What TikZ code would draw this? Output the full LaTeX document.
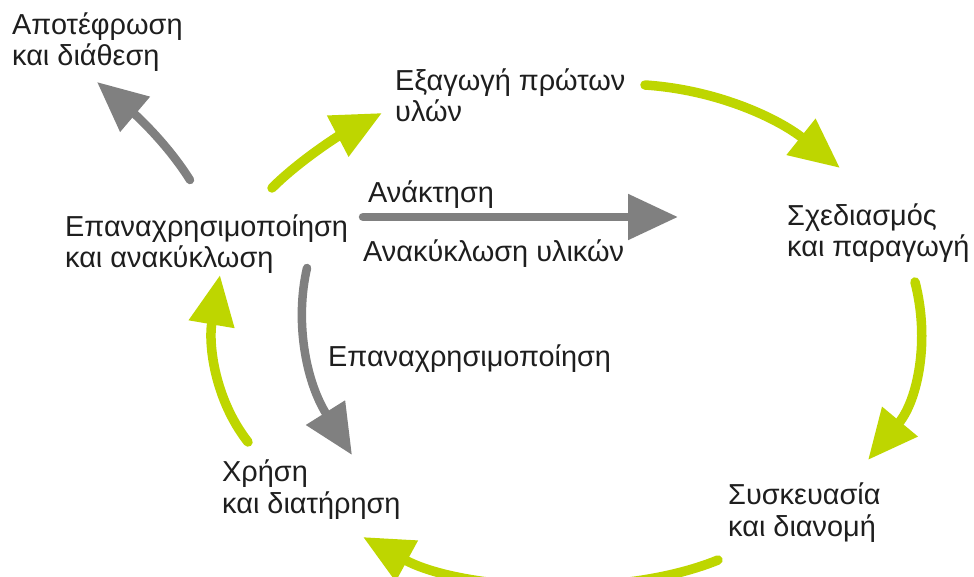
\documentclass[tikz,border=0pt]{standalone}
\usepackage{fontspec}
\setmainfont{Liberation Sans}
\usetikzlibrary{arrows.meta}
\definecolor{lime}{RGB}{190,214,0}
\definecolor{arrgray}{RGB}{128,128,128}
\definecolor{txt}{RGB}{30,30,30}
\begin{document}
\begin{tikzpicture}[x=1bp,y=-1bp,
  lbl/.style={anchor=base west,inner sep=0pt,align=left,text=txt,font=\fontsize{29}{32}\selectfont},
  garrow/.style={draw=lime,line width=9.5bp,line cap=round,-{Triangle[length=50bp,width=44bp]},fill=none},
  grarrow/.style={draw=arrgray,line width=8.5bp,line cap=round,-{Triangle[length=50bp,width=44bp]}}]
\useasboundingbox (0,0) rectangle (974,577);
\clip (0,0) rectangle (974,577);
% texts (anchored at the baseline of their last line)
\node[lbl] (apot) at (12,66) {Αποτέφρωση\\και διάθεση};
\node[lbl] (exag) at (395,122) {Εξαγωγή πρώτων\\υλών};
\node[lbl] (sxed) at (787,257) {Σχεδιασμός\\και παραγωγή};
\node[lbl] (epan) at (65,268) {Επαναχρησιμοποίηση\\και ανακύκλωση};
\node[lbl] (anakt) at (368,203) {Ανάκτηση};
\node[lbl] (anakyk) at (363,262) {Ανακύκλωση υλικών};
\node[lbl] (epan2) at (328,366) {Επαναχρησιμοποίηση};
\node[lbl] (xrisi) at (222,513) {Χρήση\\και διατήρηση};
\node[lbl] (sysk) at (728,536) {Συσκευασία\\και διανομή};
% arrow end points
\coordinate (a1s) at (190,180); \coordinate (a1e) at (97,82);
\coordinate (a2s) at (272,188); \coordinate (a2e) at (382,113);
\coordinate (a3s) at (645,85);  \coordinate (a3e) at (840,168);
\coordinate (a4s) at (915,282); \coordinate (a4e) at (868,460);
\coordinate (a5s) at (718,560); \coordinate (a5e) at (363,537);
\coordinate (a6s) at (248,442); \coordinate (a6e) at (220,275);
\coordinate (a7s) at (363,217); \coordinate (a7e) at (678,217);
\coordinate (a8s) at (307,268); \coordinate (a8e) at (352,455);
% arrows
\draw[grarrow] (a1s) .. controls (165,140) and (130,110) .. (a1e);
\draw[garrow] (a2s) .. controls (300,160) and (340,135) .. (a2e);
\draw[garrow] (a3s) .. controls (720,90) and (780,120) .. (a3e);
\draw[garrow] (a4s) .. controls (930,340) and (918,400) .. (a4e);
\draw[garrow] (a5s) .. controls (620,600) and (460,590) .. (a5e);
\draw[garrow] (a6s) .. controls (215,400) and (208,345) .. (a6e);
\draw[grarrow] (a7s) -- (a7e);
\draw[grarrow] (a8s) .. controls (295,320) and (305,380) .. (a8e);
\end{tikzpicture}
\end{document}
